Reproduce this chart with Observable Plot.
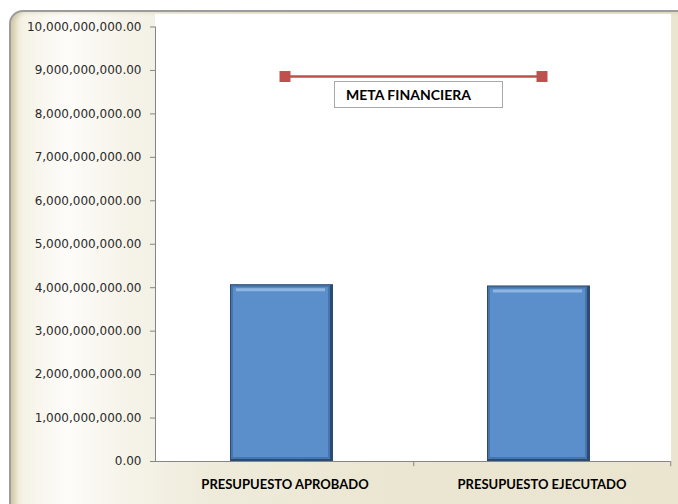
<!DOCTYPE html>
<html>
<head>
<meta charset="utf-8">
<script src="https://cdn.jsdelivr.net/npm/d3@7"></script>
<script src="https://cdn.jsdelivr.net/npm/@observablehq/plot@0.6"></script>
<style>
  html, body { margin: 0; padding: 0; background: #fff; }
  #wrap { position: relative; width: 678px; height: 504px; overflow: hidden; background: #fff; }
  #frame {
    position: absolute; left: 9px; top: 10px; width: 720px; height: 540px;
    border: 2px solid #9c9c9c; border-radius: 14px; box-sizing: border-box;
    background: linear-gradient(to right, #e9e3cb 0px, #f5f2e6 12px, #fdfcf9 55px, #f6f4ea 110px, #efebdb 200px, #ebe6d1 400px, #ebe5d0 100%);
    box-shadow: inset 4px 0 4px rgba(170,150,100,0.35);
  }
  #plotbg { position: absolute; left: 155px; top: 14px; width: 516px; height: 447px; background: #fff; }
  #chart { position: absolute; left: 0; top: 0; }
  #meta {
    position: absolute; left: 334px; top: 81px; width: 169px; height: 27px; box-sizing: border-box;
    border: 1px solid #a9a9a9; background: #fff;
    font-family: Lato, sans-serif; font-weight: bold; font-size: 14px; color: #000;
    padding-left: 11px; line-height: 25px; white-space: nowrap;
  }
</style>
</head>
<body>
<div id="wrap">
  <div id="frame"></div>
  <div id="plotbg"></div>
  <div id="chart"></div>
  <div id="meta">META FINANCIERA</div>
</div>
<script>
const categories = ["PRESUPUESTO APROBADO", "PRESUPUESTO EJECUTADO"];
const presupuesto = [4.07e9, 4.04e9];
const metaFinanciera = [8.86e9, 8.86e9];
const yTicks = [0, 1e9, 2e9, 3e9, 4e9, 5e9, 6e9, 7e9, 8e9, 9e9, 10e9];

const data = categories.map((c, i) => ({cat: c, value: presupuesto[i], meta: metaFinanciera[i]}));

const W = 678, H = 504, mL = 155, mR = 8, mT = 26.5, mB = 43;
const step = (W - mL - mR) / categories.length;

const chart = Plot.plot({
  width: W, height: H,
  marginLeft: mL, marginRight: mR, marginTop: mT, marginBottom: mB,
  style: {background: "transparent", fontFamily: "DejaVu Sans", fontSize: "12px", color: "#404040"},
  x: {domain: categories, paddingInner: 0.6, paddingOuter: 0.3, label: null},
  y: {domain: [0, 10e9], label: null},
  marks: [
    Plot.barY(data, {x: "cat", y: "value", dx: -3, fill: "#2c4b72"}),
    Plot.barY(data, {x: "cat", y: "value", dx: -3, fill: "#4776ad", insetLeft: 1, insetRight: 3, insetTop: 1, insetBottom: 2}),
    Plot.barY(data, {x: "cat", y: "value", dx: -3, fill: "#5b8fcb", insetLeft: 3, insetRight: 5, insetTop: 3, insetBottom: 4}),
    Plot.tickY(data, {x: "cat", y: "value", dx: -3, dy: 5, stroke: "#8fb5e2", strokeWidth: 3, insetLeft: 6, insetRight: 8}),
    Plot.ruleY([0], {stroke: "#868686", strokeWidth: 1}),
    Plot.ruleX(categories, {y1: 0, y2: -0.12e9, dx: step / 2, stroke: "#868686"}),
    Plot.frame({anchor: "left", stroke: "#868686"}),
    Plot.line(data, {x: "cat", y: "meta", stroke: "#c0504d", strokeWidth: 2.5}),
    Plot.dot(data, {x: "cat", y: "meta", symbol: "square", fill: "#c0504d", stroke: "none", r: 6.2}),
    Plot.axisY({ticks: yTicks, tickFormat: d3.format(",.2f"), tickSize: 5, tickPadding: 9, stroke: "#868686", fill: "#2a2a2a", fontFamily: "DejaVu Sans", fontSize: 12}),
    Plot.axisX({tickSize: 0, tickPadding: 18, fontFamily: "Lato", fontWeight: "bold", fontSize: 13, fill: "#000"})
  ]
});
document.getElementById("chart").appendChild(chart);
</script>
</body>
</html>
